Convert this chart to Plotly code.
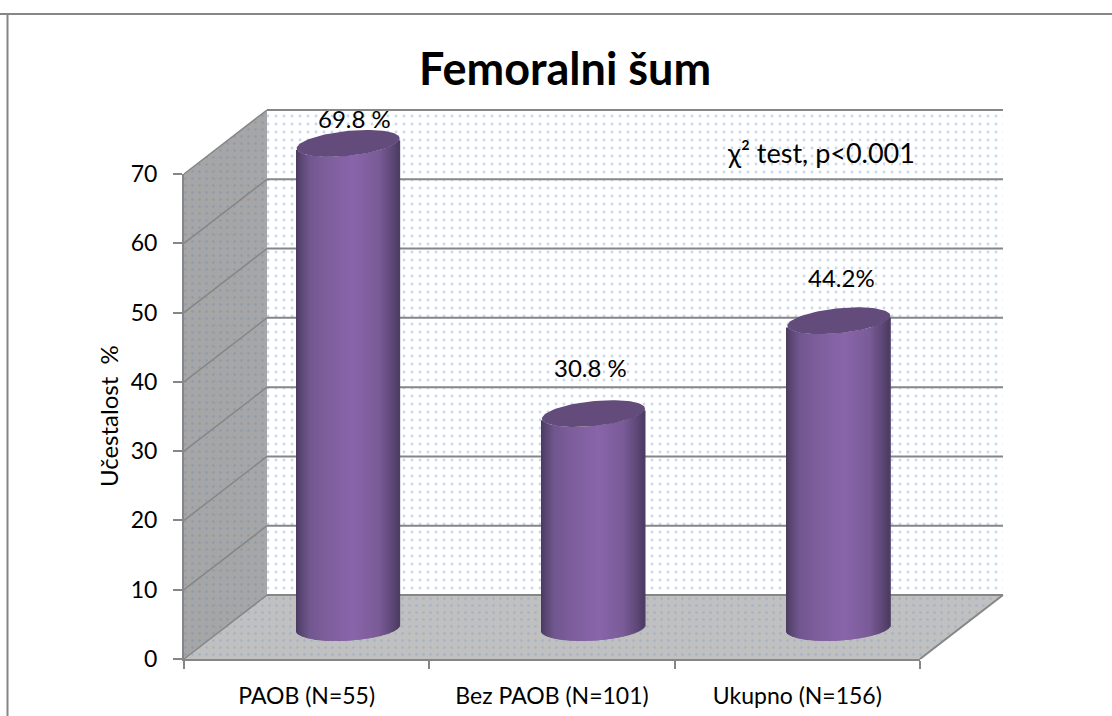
import numpy as np
import plotly.graph_objects as go

W, H = 1112, 716

categories = ["PAOB (N=55)", "Bez PAOB (N=101)", "Ukupno (N=156)"]
values = [69.8, 30.8, 44.2]
value_labels = ["69.8 %", "30.8 %", "44.2%"]
value_label_shift_x = [6, -3, 3]
value_label_shift_y = [25, 46, 43]
y_ticks = [0, 10, 20, 30, 40, 50, 60, 70]

FONT = "Lato"
GREY = "#868686"

# front plane of the fake 3d box, in page pixels
X0, X1 = 184, 920
Y0, Y1 = 659, 174
DEPTH_X, DEPTH_Y = 83, 64

n_cat = len(categories)
top = max(y_ticks)
px_x = (X1 - X0) / n_cat
px_y = (Y0 - Y1) / top
dx = DEPTH_X / px_x
dy = DEPTH_Y / px_y

# body shading left to right
shade_pos = [-1, -0.92, -0.75, -0.45, 0.12, 0.6, 0.85, 1]
shade_rgb = [
    (74, 58, 98),
    (88, 69, 113),
    (112, 86, 142),
    (125, 94, 155),
    (137, 101, 170),
    (122, 92, 152),
    (96, 74, 122),
    (76, 60, 98),
]


def shade(u):
    return "rgb(%d,%d,%d)" % tuple(
        np.interp(u, shade_pos, [c[i] for c in shade_rgb]) for i in range(3)
    )


fig = go.Figure()


def wall(xs, ys, bg, fg, solidity, size=6):
    fig.add_trace(
        go.Scatter(
            x=xs,
            y=ys,
            mode="lines",
            fill="toself",
            fillcolor=bg,
            fillpattern=dict(
                shape=".", bgcolor=bg, fgcolor=fg, size=size, solidity=solidity
            ),
            line=dict(width=0),
            hoverinfo="skip",
            showlegend=False,
        )
    )


def wall_lines(xs, ys, width):
    fig.add_trace(
        go.Scatter(
            x=xs,
            y=ys,
            mode="lines",
            line=dict(color=GREY, width=width),
            hoverinfo="skip",
            showlegend=False,
        )
    )


# back wall, side wall, floor
wall(
    [dx, dx + n_cat, dx + n_cat, dx, dx],
    [dy, dy, top + dy, top + dy, dy],
    "#ffffff",
    "#c8d8ef",
    0.1,
    8,
)
wall([0, dx, dx, 0, 0], [0, dy, top + dy, top, 0], "#a6a6a6", "#8c99ae", 0.1, 7)
wall([0, n_cat, n_cat + dx, dx, 0], [0, 0, dy, dy, 0], "#c0c0c0", "#a3b2c6", 0.1, 7)

# grid lines on the walls, thinner on the slanted side
back_x, back_y, side_x, side_y = [], [], [], []
for v in y_ticks:
    back_x += [dx, dx + n_cat, None]
    back_y += [v + dy, v + dy, None]
    side_x += [0, dx, None]
    side_y += [v, v + dy, None]
wall_lines(side_x, side_y, 1.5)
wall_lines(back_x + [n_cat, n_cat + dx], back_y + [0, dy], 2)

# cylinders: thin slats for the round body, a polygon for the lid
half_w = 51.5 / px_x
lid_b = 12.5 / px_y
lid_k = 5 / px_y
foot_k = 3 / px_y
foot_off = 1 / px_y
n_slats = 104
us = (np.arange(n_slats) + 0.5) / n_slats * 2 - 1
slat_w = 2 * half_w / n_slats * 2

slat_x, slat_base, slat_h, slat_col = [], [], [], []
for i, v in enumerate(values):
    for u in us:
        low = -lid_b * np.sqrt(1 - u * u)
        base = foot_k * u + low - foot_off
        tip = v + lid_k * u + low
        slat_x.append(i + 0.5 + u * half_w)
        slat_base.append(base)
        slat_h.append(tip - base)
        slat_col.append(shade(u))

fig.add_trace(
    go.Bar(
        x=slat_x,
        y=slat_h,
        base=slat_base,
        width=slat_w,
        marker=dict(color=slat_col, line=dict(width=0)),
        hoverinfo="skip",
        showlegend=False,
        xaxis="x3",
        yaxis="y3",
    )
)

t = np.linspace(0, 2 * np.pi, 90)
for i, v in enumerate(values):
    fig.add_trace(
        go.Scatter(
            x=i + 0.5 + half_w * np.cos(t),
            y=v + lid_k * np.cos(t) + lid_b * np.sin(t),
            mode="lines",
            fill="toself",
            fillcolor="#634c7b",
            line=dict(width=0),
            hoverinfo="skip",
            showlegend=False,
            xaxis="x3",
            yaxis="y3",
        )
    )

for i, v in enumerate(values):
    fig.add_annotation(
        x=i + 0.5,
        y=v,
        xref="x3",
        yref="y3",
        xshift=value_label_shift_x[i],
        yshift=value_label_shift_y[i],
        text=value_labels[i],
        showarrow=False,
        xanchor="center",
        yanchor="middle",
        font=dict(family=FONT, size=24, color="#000000"),
    )


def page_text(x, y, text, size, angle=0):
    fig.add_annotation(
        x=x / W,
        y=1 - y / H,
        xref="paper",
        yref="paper",
        text=text,
        textangle=angle,
        showarrow=False,
        xanchor="center",
        yanchor="middle",
        font=dict(family=FONT, size=size, color="#000000"),
    )


page_text(565, 68, "<b>Femoralni šum</b>", 45)
page_text(821, 152, "χ² test, p&lt;0.001", 27)
page_text(108, 416, "Učestalost  %", 24, -90)

# chart frame, only top and left survive the crop
fig.add_shape(type="line", xref="paper", yref="paper", x0=0, x1=1, y0=1 - 14 / H, y1=1 - 14 / H, line=dict(color=GREY, width=2))
fig.add_shape(type="line", xref="paper", yref="paper", x0=7.5 / W, x1=7.5 / W, y0=0, y1=1 - 14 / H, line=dict(color=GREY, width=2))


def page_axes(shift_x, shift_y):
    # whole page as one axis pair, in category and percent units
    return (
        dict(
            domain=[0, 1],
            range=[-X0 / px_x - shift_x, (W - X0) / px_x - shift_x],
            visible=False,
        ),
        dict(
            domain=[0, 1],
            range=[(Y0 - H) / px_y - shift_y, Y0 / px_y - shift_y],
            visible=False,
        ),
    )


wall_x, wall_y = page_axes(0, 0)
cyl_x, cyl_y = page_axes(dx / 2, dy / 2)

fig.update_layout(
    template="none",
    width=W,
    height=H,
    margin=dict(l=0, r=0, t=0, b=0),
    paper_bgcolor="#ffffff",
    plot_bgcolor="rgba(0,0,0,0)",
    showlegend=False,
    barmode="overlay",
    xaxis=wall_x,
    yaxis=wall_y,
    # the visible axes sit on the front plane
    xaxis2=dict(
        domain=[X0 / W, X1 / W],
        range=[0, n_cat],
        anchor="y2",
        tickmode="array",
        tickvals=[i + 0.5 for i in range(n_cat)],
        ticktext=categories,
        ticks="",
        tickfont=dict(family=FONT, size=23, color="#000000"),
        ticklabelstandoff=15,
        showgrid=False,
        zeroline=False,
        showline=True,
        linecolor=GREY,
        linewidth=2,
        minor=dict(
            tickmode="array",
            tickvals=list(range(n_cat + 1)),
            ticks="outside",
            ticklen=8,
            tickwidth=2,
            tickcolor=GREY,
            showgrid=False,
        ),
    ),
    yaxis2=dict(
        domain=[1 - Y0 / H, 1 - Y1 / H],
        range=[0, top],
        anchor="x2",
        tickmode="array",
        tickvals=y_ticks,
        ticks="outside",
        ticklen=9,
        tickwidth=2,
        tickcolor=GREY,
        tickfont=dict(family=FONT, size=23, color="#000000"),
        ticklabelstandoff=11,
        showgrid=False,
        zeroline=False,
        showline=True,
        linecolor=GREY,
        linewidth=2,
    ),
    # plane half way into the box, the cylinders stand on it
    xaxis3=dict(cyl_x, anchor="y3"),
    yaxis3=dict(cyl_y, anchor="x3"),
)

# the visible axes need a trace to be drawn on their subplot
fig.add_trace(
    go.Scatter(
        x=[0],
        y=[0],
        mode="markers",
        marker=dict(opacity=0),
        hoverinfo="skip",
        showlegend=False,
        xaxis="x2",
        yaxis="y2",
    )
)

fig.write_html(
    "out.html",
    config={"displayModeBar": False},
    post_script="document.body.style.margin='0';",
)
